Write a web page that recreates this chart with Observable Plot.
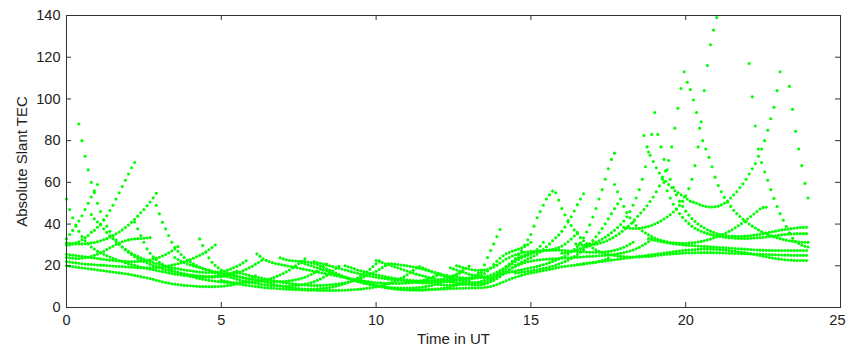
<!DOCTYPE html>
<html>
<head>
<meta charset="utf-8">
<script src="https://cdn.jsdelivr.net/npm/d3@7"></script>
<script src="https://cdn.jsdelivr.net/npm/@observablehq/plot@0.6"></script>
<style>
  html, body { margin: 0; padding: 0; background: #fff; }
  #chart svg { display: block; }
</style>
</head>
<body>
<div id="chart"></div>
<script>
// ---- axis ticks ----
const xTicks = [0, 5, 10, 15, 20, 25];
const yTicks = [0, 20, 40, 60, 80, 100, 120, 140];
const xLabel = "Time in UT";
const yLabel = "Absolute Slant TEC";

// ---- sampling interval of every satellite pass (hours) ----
const SAMPLE_STEP = 0.1;

// ---- slant TEC of each satellite pass ----
const p01 = [33,35,37,39,41.5,44,47,50,53,56,59];
const p02 = [30,30,30.5,31,31.5,32.5,33.5,34.5,36,37,38.5,40,42,44,46.5,49,52,55,58,61,64,67,69.5];
const p03 = [31,30.8,30.6,30.5,30.5,30.5,30.6,30.8,31,31.2,31.5,32,32.5,33,33.7,34.5,35.3,36.2,37.2,38.3,39.5,40.9,42.3,43.8,45.4,47,48.8,50.6,52.6,54.8];
const p04 = [24,23.8,23.6,23.5,23.5,23.6,23.8,24.1,24.5,25,25.6,26.3,27,27.8,28.6,29.4,30.2,30.9,31.5,32,32.4,32.7,32.9,33,33.1,33.2,33.3,33.5];
const p05 = [52,47,43,39.5,36.5,34,32,30.5,29,28,27,26.2,25.5,24.8,24.2,23.6,23,22.5,22,21.5,21,20.6,20.2,19.8,19.4,19,18.7,18.4,18.1,17.8,17.5,17.2,16.9,16.6,16.3,16,15.8,15.6,15.4,15.2,15,14.9,14.8,14.7,14.6,14.5,14.5,14.5,14.6,14.7,14.8,15,15.3,15.6,16,16.5,17,17.6,18.3,19,19.8,20.7,21.6,22.5];
const p06 = [20,19.8,19.6,19.4,19.2,19,18.8,18.6,18.4,18.2,18,17.8,17.6,17.4,17.2,17,16.8,16.6,16.4,16.2,16,15.7,15.4,15.1,14.8,14.5,14.2,13.9,13.5,13.1,12.7,12.3,12,11.7,11.4,11.2,11,10.8,10.6,10.5,10.4,10.3,10.2,10.1,10,10,10,10,10,10.1,10.2,10.3,10.5,10.7,11,11.3,11.7,12.2,12.8,13.5,14.3,15.2];
const p07 = [22,21.8,21.6,21.4,21.2,21,20.8,20.7,20.6,20.5,20.4,20.3,20.2,20.1,20,19.9,19.8,19.7,19.6,19.5,19.4,19.3,19.2,19.1,19,19,19,19,19.1,19.2,19.3,19.5,19.7,20,20.3,20.6,21,21.4,21.9,22.4,23,23.6,24.3,25,25.8,26.7,27.7,28.8,30];
const p08 = [25.5,25.3,25.1,24.9,24.7,24.5,24.3,24.1,23.9,23.7,23.5,23.3,23.1,22.9,22.7,22.5,22.4,22.3,22.2,22.1,22,22,22,22.1,22.2,22.4,22.6,22.9,23.2,23.6,24.1,24.7,25.4,26.2,27.1,28.1,29.2];
const p09 = [88,80,72.5,66,60,55,50,46,42,39,36.5,34.3,32.3,30.5,29,27.7,26.5,25.4,24.4,23.5,22.7,22,21.3,20.7,20.1,19.6,19.1,18.6,18.2,17.8,17.4,17,16.7,16.4,16.1,15.9,15.7,15.5,15.3,15.2,15.1,15,15,15,15.1,15.2,15.4,15.7,16,16.4,16.9,17.5];
const p10 = [44.6,42.5,41,39.5,37.7,36,34.5,33,31.5,30.2,29,27.9,26.9,26,25.2,24.5,23.8,23.2,22.6,22.1,21.6,21.1,20.7,20.3,19.9,19.5,19.2,18.9,18.6,18.3,18,17.8,17.6,17.4,17.2,17,16.9,16.8,16.8,16.8,16.9,17,17.2,17.5,17.9,18.4,19,19.7,20.5,21.4,22.4];
const p11 = [41,37.7,34.5,31.3,28.1,26,24.3,22.9,21.7,20.7,19.8,19,18.3,17.6,17,16.4,15.9,15.4,15,14.6,14.2,13.9,13.6,13.3,13,12.8,12.6,12.4,12.2,12.1,12,11.9,11.8,11.8,11.8,11.8,11.9,12,12.1,12.3,12.5,12.8,13.1,13.5,13.9,14.4,15,15.6,16.3,17.1,18,19,20,21.1,22.2,23.3];
const p12 = [49,44.9,40.9,37.7,34.5,31.3,28.9,27,25.4,24,22.8,21.8,20.9,20.1,19.4,18.8,18.2,17.7,17.2,16.7,16.2,15.7,15.2,14.8,14.4,14,13.6,13.2,12.8,12.5,12.2,11.9,11.6,11.3,11.1,10.9,10.7,10.6,10.5,10.4,10.3,10.3,10.3,10.3,10.4,10.5,10.7,10.9,11.2,11.5,11.9,12.4,13,13.7,14.5,15.4,16.4,17.5,18.7,19.8];
const p13 = [32.9,29.7,26.5,23.8,21.7,20.2,19,18,17.2,16.5,15.9,15.4,15,14.6,14.3,14,13.7,13.5,13.3,13.1,12.7,12.3,11.9,11.5,11.1,10.7,10.4,10.1,9.8,9.6,9.4,9.2,9.1,9,8.9,8.9,8.9,8.9,9,9.1,9.2,9.4,9.6,9.9,10.2,10.6,11,11.5,12,12.6,13.3,14.1,15,16,17.1,18.3,19.6,21,22.4];
const p14 = [13,12.7,12.4,12.1,11.8,11.5,11.2,10.9,10.7,10.5,10.3,10.1,9.9,9.7,9.5,9.4,9.3,9.2,9.1,9,8.9,8.8,8.7,8.6,8.5,8.5,8.4,8.4,8.3,8.3,8.3,8.2,8.2,8.2,8.2,8.2,8.2,8.2,8.2,8.3,8.3,8.4,8.5,8.6,8.7,8.8,9,9.2,9.4,9.6,9.9,10.2,10.6,11,11.5,12,12.6,13.3,14,14.8,15.7,16.7,17.8,19];
const p15 = [25.7,24.5,23.4,22.6,22,21.5,21.1,20.8,20.5,20.2,19.9,19.6,19.3,19,18.7,18.4,18.1,17.8,17.5,17.2,16.9,16.6,16.3,16,15.7,15.4,15.1,14.8,14.5,14.2,13.9,13.6,13.3,13,12.8,12.6,12.4,12.2,12,11.9,11.8,11.7,11.6,11.5,11.5,11.5,11.5,11.6,11.7,11.8,12,12.2,12.5,12.8,13.2,13.6,14.1,14.7,15.3,16];
const p16 = [23.8,23.3,22.9,22.6,22.4,22.3,22.2,22.1,22,21.8,21.5,21.1,20.6,20,19.3,18.6,17.9,17.2,16.5,15.8,15.2,14.6,14,13.5,13,12.5,12.1,11.7,11.4,11.1,10.8,10.5,10.3,10.1,9.9,9.7,9.6,9.5,9.4,9.3,9.3,9.3,9.3,9.4,9.5,9.6,9.8,10,10.3,10.6,11,11.5,12,12.6,13.2,13.9,14.7,15.5,16.4,17.4];
const p17 = [21.5,21,20.5,20,19.5,19,18.5,18,17.5,17,16.5,16,15.5,15,14.5,14,13.5,13,12.6,12.2,11.8,11.4,11,10.7,10.4,10.1,9.8,9.5,9.3,9.1,8.9,8.7,8.6,8.5,8.4,8.3,8.3,8.3,8.3,8.3,8.4,8.5,8.6,8.7,8.9,9.1,9.3,9.6,9.9,10.3,10.7,11.2,11.7,12.3,13,13.8,14.7,15.7,16.8,18];
const p18 = [20,19.5,19,18.5,18,17.6,17.2,16.8,16.4,16,15.7,15.4,15.1,14.8,14.5,14.2,14,13.8,13.6,13.4,13.2,13,12.9,12.8,12.7,12.6,12.6,12.6,12.6,12.6,12.7,12.8,12.9,13,13.1,13.2,13.3,13.4,13.5,13.6,14,14.6,15.4,16.5,18,20.5,24,27.3,30.5,34,37.4];
const p19 = [13,12.5,12,11.5,11,10.6,10.2,9.9,9.6,9.4,9.2,9,8.9,8.8,8.7,8.6,8.6,8.6,8.6,8.6,8.6,8.6,8.7,8.7,8.8,8.8,8.9,8.9,9,9,9.1,9.1,9.2,9.2,9.3,9.3,9.4,9.4,9.5,9.5,9.6,9.8,10.1,10.5,11,11.6,12.2,12.8,13.4,14,14.5,15,15.4,15.8,16.2,16.5,16.8,17.1,17.4,17.7,18,18.3,18.6,18.9,19.2,19.5,19.7,19.9,20.1,20.3,20.5,20.7,20.9,21.1,21.3,21.5,21.8,22.1,22.5,23,23.6];
const p20 = [19.6,19,18.4,17.8,17.2,16.6,16,15.5,15,14.5,14.1,13.7,13.3,13,12.7,12.4,12.2,12,11.8,11.7,11.7,11.8,12,12.4,13,13.8,14.8,15.9,17,18,18.9,19.7,20.4,21,21.5,21.9,22.2,22.5,22.7,22.9,23,23.1,23.2,23.3,23.4,23.5,23.6,23.7,23.8,23.9,24,24.1,24.2,24.3,24.4,24.5,24.6,24.7,24.8,24.9,25,25.1,25.3,25.5,25.7,26,26.3,26.7,27.1,27.6,28.2,28.9,29.7,30.6,31.6,32.7];
const p21 = [22.5,22,21.5,21,20.5,20,19.5,19,18.5,18,17.5,17,16.5,16,15.6,15.2,14.8,14.4,14,13.7,13.4,13.1,12.8,12.5,12.2,12,11.8,11.6,11.4,11.2,11,10.9,10.8,10.8,10.9,11.2,11.8,12.6,13.6,14.8,16.1,17.4,18.7,19.9,21,22,22.9,23.7,24.4,25,25.5,26.5,27.8,29.4,31.3];
const p22 = [19,18.5,18,17.5,17,16.5,16,15.6,15.2,14.8,14.5,14.3,14.3,14.5,15,15.8,16.9,18.2,19.5,20.8,22,23,23.9,24.6,25.2,25.7,26.1,26.4,26.7,27,27.2,27.4,27.5,27.5,27.5,27.5,27.4,27.3,27.2,27.1,27,26.9,26.8,26.7,26.6,26.5,26.5,26.5,26.5,26.6,26.7,26.9,27.1,27.4,27.8,28.3,28.9,29.6,30.4,31.3];
const p23 = [12.5,12.3,12.1,12,11.9,11.8,11.8,11.8,11.8,11.9,12,12.1,12.3,12.5,12.7,12.9,13.1,13.3,13.5,13.8,14,14,14.1,14.2,14.4,14.7,15.1,15.6,16.2,16.9,17.7,18.6,19.6,20.7,22,23.5,25.3,27.3,30,32.5,35,39,43,46,49,52,54,55.8];
const p24 = [55,51.5,47.5,44.5,41.7,39.3,37.2,35.3,33.5,32,30.7,29.5,28.5,27.7,27,26.4,25.9,25.5,25.2,24.9,24.7,24.5,24.4,24.3,24.2,24.2,24.2,24.2,24.3,24.4,24.5,24.6,24.8,25,25.2,25.4,25.5,25.6,25.7,25.8,25.9,26,26.1,26.2,26.2,26.3,26.3,26.3,26.3,26.3,26.3,26.3,26.2,26.2,26.1,26.1,26,26,25.9,25.9,25.8,25.8,25.7,25.7,25.6,25.6,25.5,25.5,25.4,25.4,25.3,25.3,25.2,25.2,25.1,25.1,25,25,25,25,25,25];
const p25 = [11,10.9,10.8,10.8,10.8,10.8,10.9,11,11.1,11.2,11.4,11.6,11.9,12.2,12.6,13,13.3,13.7,14.2,14.8,15.5,16.3,17.2,18.2,19.2,20.2,21,21.8,22.5,23.2,23.9,24.7,25.6,26.6,27.8,29.1,30.5,32,33.4,34.8,36.5,38.6,41,43.5,46.3,49.3,52,54.5];
const p26 = [16,16.3,16.6,16.9,17.2,17.5,17.8,18.1,18.4,18.7,19,19.3,19.7,20.1,20.5,21,21.5,22,22.6,23.2,23.9,24.7,25.6,26.6,27.8,29.2,31,33.3,36.2,39.6,43.4,47.5,52,56.5,61.5,66.5,71,74];
const p27 = [59,55.5,52,48.5,45.5,43,41,39.3,37.9,36.7,35.7,34.8,34,33.3,32.7,32.2,31.8,31.5,31.2,31,30.9,30.8,30.8,30.8,30.9,31,31.2,31.4,31.7,32,32.4,32.8,33.3,33.8,34.4,35,35.7,36.5,37.3,38.2,39.2,40.2,41.3,42.4,43.6,44.8,46,47.2,48,48.1];
const p28 = [16.5,16.7,16.9,17.1,17.3,17.5,17.8,18.1,18.4,18.7,19,19.4,19.8,20.3,20.8,21.4,22,22.7,23.5,24.4,25.4,26.5,27.7,29,30.5,32.1,33.9,35.8,37.9,40.1,42.5,45,47.4,49.7];
const p29 = [82.5,77,73,70,67,64.5,62.5,60.5,59,57.5,56,55,54,53,52,51,50.5,50,49.3,48.8,48.4,48.2,48.2,48.3,48.6,49.2,50,51,52.5,54,55.5,57.5,59.3,61.5,64,66.5,69,72.5,76,80,85,90.5,96,104,113];
const p30 = [26,26.3,26.6,27,27.4,27.8,28.3,28.8,29.4,30,30.6,31.3,32,32.8,33.7,34.7,35.8,37,38.3,39.8,41.5,43.5,46,49,52.5,56.5,61.5,67.5,74.5,83,93.5];
const p31 = [83,77,71,66,61.5,57.5,54,51,48.5,46.2,44.3,42.6,41.2,40,39,38.1,37.3,36.6,36,35.5,35.1,34.8,34.5,34.3,34.2,34.1,34.1,34.1,34.2,34.3,34.5,34.7,34.9,35.1,35.4,35.7,36,36.3,36.6,36.9,37.2,37.4,37.6,37.8,38,38.2,38.3,38.4,38.5];
const p32 = [30.5,30.2,30,29.9,29.9,30,30.2,30.5,30.9,31.4,32,32.7,33.5,34.4,35.4,36.5,37.7,39,40.4,42,43.7,45.3,47,48.8,50.8,53,55.5,58.3,61.5,65.5,70.5,77,86,95.5,105,113];
const p33 = [108,104.5,99.5,93.5,86,80,76,72,67.5,62.5,58.5,55.5,52.8,50.5,48.5,46.6,45,43.6,42.3,41.1,40,39,38.1,37.2,36.4,35.7,35,34.4,33.9,33.4,33,32.6,32.3,32,31.8,31.6,31.4,31.3,31.3,31.3];
const p34 = [38.5,38.2,38,37.9,37.9,38,38.2,38.5,38.9,39.4,40,40.7,41.5,42.4,43.4,44.5,45.8,47.3,49,51,53.5,57,61.5,68,77,89,104,116,126,133,139];
const p35 = [117,101,87,76,69.5,65,61,56.5,52.3,48.4,45,41.8,38.8,35.8,33.2,31.6,30.7,30,29.4,29];
const p36 = [106,95,84.5,76,68,59.5,52.5];
const p37 = [20.5,20.7,20.9,21.1,21.3,21.5,21.7,21.9,22.1,22.3,22.5,22.7,22.9,23.1,23.3,23.5,23.7,23.9,24.1,24.3,24.5,24.7,24.9,25.1,25.3,25.5,25.7,25.9,26.1,26.3,26.5,26.7,26.9,27.1,27.3,27.5,27.6,27.7,27.8,27.9,28,28,28,28,27.9,27.8,27.7,27.6,27.5,27.3,27.1,26.9,26.7,26.5,26.3,26.1,25.8,25.5,25.2,24.9,24.6,24.3,24,23.7,23.5,23.3,23.1,22.9,22.8,22.7,22.6,22.5,22.5,22.5,22.5];
const p38 = [33,32.6,32.2,31.9,31.6,31.3,31,30.8,30.6,30.4,30.2,30,29.9,29.8,29.7,29.6,29.5,29.4,29.3,29.2,29.1,29,28.9,28.8,28.7,28.6,28.5,28.4,28.3,28.2,28.1,28,27.9,27.8,27.7,27.6,27.5,27.5,27.4,27.4,27.3,27.3,27.3,27.3,27.3,27.3,27.3,27.3,27.3,27.3,27.3,27.3];
const p39 = [60,56,52.5,49.5,47,45,43.2,41.6,40.2,39,38,37.2,36.5,35.9,35.4,35,34.6,34.3,34,33.8,33.6,33.4,33.3,33.2,33.1,33.1,33.1,33.1,33.2,33.3,33.4,33.5,33.6,33.8,34,34.2,34.4,34.6,34.8,35,35.1,35.2,35.3,35.4,35.4,35.4,35.4];
const p40 = [24,23,22.2,21.5,20.9,20.4,19.9,19.5,19.1,18.7,18.3,17.9,17.5,17.1,16.8,16.5,16.2,15.9,15.6,15.3,15,14.7,14.4,14.1,13.8,13.5,13.3,13.1,12.9,12.7,12.6,12.5,12.4,12.4,12.4,12.5,12.6,12.8,13,13.3,13.6,14,14.5,15.1,15.8,16.6,17.5,18.5,19.6,20.8];
const p41 = [22,21.6,21.2,20.8,20.4,20,19.6,19.2,18.8,18.4,18,17.6,17.2,16.8,16.4,16,15.7,15.4,15.1,14.8,14.5,14.2,14,13.8,13.6,13.4,13.2,13,12.9,12.8,12.7,12.6,12.5,12.5,12.5,12.5,12.6,12.7,12.8,13,13.2,13.5,13.8,14.2,14.7,15.3,16,16.8,17.7,18.7,19.8];
const p42 = [17,16.6,16.2,15.8,15.4,15,14.7,14.4,14.1,13.8,13.5,13.2,12.9,12.6,12.3,12,11.8,11.6,11.4,11.2,11,10.9,10.8,10.7,10.6,10.6,10.6,10.6,10.7,10.8,10.9,11,11.2,11.4,11.6,11.9,12.2,12.6,13,13.5,14,14.6,15.2,15.9,16.6,17.4,18.2,19.1,20,21];
const p43 = [21,20.8,20.6,20.4,20.2,20,19.7,19.4,19.1,18.8,18.4,18,17.6,17.2,16.8,16.4,16,15.6,15.3,15,14.7,14.5,14.3,14.2,14.1,14.1,14.2,14.4,14.8,15.4,16.3,17.5,19,20.6,22.2,23.6,24.8,25.7,26.4,27,27.5,28,28.6,29.3,30.2,31.3];
const p44 = [20,19.6,19.2,18.8,18.4,18.1,17.9,17.8,17.8,17.9,18.2,18.7,19.4,20.3,21.3,22.3,23.2,24,24.7,25.3,25.8,26.2,26.5,26.7,26.9,27,27.1,27.2,27.3,27.4,27.6,27.9,28.3,28.8,29.5,30.4,31.5,32.8,34.3,36];

// first sample time (UT hours) of each pass, same order as passValues
const passStarts = [0, 0, 0, 0, 0, 0, 0, 0, 0.4, 0.8, 2.2, 2.9, 4.3, 5.0, 6.15, 6.9, 7.6, 9.0, 9.5, 11.4,
                    10.0, 12.4, 11.0, 15.8, 12.0, 14.0, 17.7, 14.5, 18.65, 16.0, 19.1, 16.45, 20.05, 18.0, 22.05, 23.35, 16.5, 18.8, 19.3,
                    3.5, 8.0, 5.5, 10.5, 12.6];
const passValues = [p01,p02,p03,p04,p05,p06,p07,p08,p09,p10,p11,p12,p13,p14,p15,p16,p17,p18,p19,p20,
                    p21,p22,p23,p24,p25,p26,p27,p28,p29,p30,p31,p32,p33,p34,p35,p36,p37,p38,p39,
                    p40,p41,p42,p43,p44];

const points = passValues.flatMap((vals, k) =>
  vals.map((v, i) => ({t: passStarts[k] + i * SAMPLE_STEP, v}))
);

const W = 847, H = 352;
const mL = 66, mR = 7, mT = 15, mB = 45;
const fw = W - mL - mR, fh = H - mT - mB;
const tick = 5;
const lastX = xTicks[xTicks.length - 1];

const chart = Plot.plot({
  width: W,
  height: H,
  marginLeft: mL,
  marginRight: mR,
  marginTop: mT,
  marginBottom: mB,
  style: {fontFamily: "'Liberation Sans', Arial, sans-serif", fontSize: "14px", color: "#222", background: "#fff"},
  x: {domain: [0, 25], axis: null},
  y: {domain: [0, 140], axis: null},
  marks: [
    Plot.dot(points, {x: "t", y: "v", r: 1.55, fill: "#00ff00", stroke: "none"}),
    Plot.frame({stroke: "#333", strokeWidth: 1}),
    Plot.ruleX(xTicks, {x: d => d, insetTop: fh - tick, stroke: "#333"}),
    Plot.ruleX(xTicks, {x: d => d, insetBottom: fh - tick, stroke: "#333"}),
    Plot.ruleY(yTicks, {y: d => d, insetRight: fw - tick, stroke: "#333"}),
    Plot.ruleY(yTicks, {y: d => d, insetLeft: fw - tick, stroke: "#333"}),
    Plot.text(xTicks.filter(d => d !== lastX), {x: d => d, frameAnchor: "bottom", text: d => String(d), dy: 17, fontSize: 14.5, fill: "#222"}),
    Plot.text([lastX], {x: d => d, frameAnchor: "bottom", text: d => String(d), dy: 17, dx: 5, textAnchor: "end", fontSize: 14.5, fill: "#222"}),
    Plot.text(yTicks, {y: d => d, frameAnchor: "left", text: d => String(d), dx: -6, textAnchor: "end", fontSize: 14.5, fill: "#222"}),
    Plot.text([xLabel], {text: d => d, frameAnchor: "bottom", dy: 36, fontSize: 15, fill: "#222"}),
    Plot.text([yLabel], {text: d => d, frameAnchor: "left", dx: -44, rotate: -90, textAnchor: "middle", fontSize: 15, fill: "#222"})
  ]
});
document.getElementById("chart").appendChild(chart);
</script>
</body>
</html>
